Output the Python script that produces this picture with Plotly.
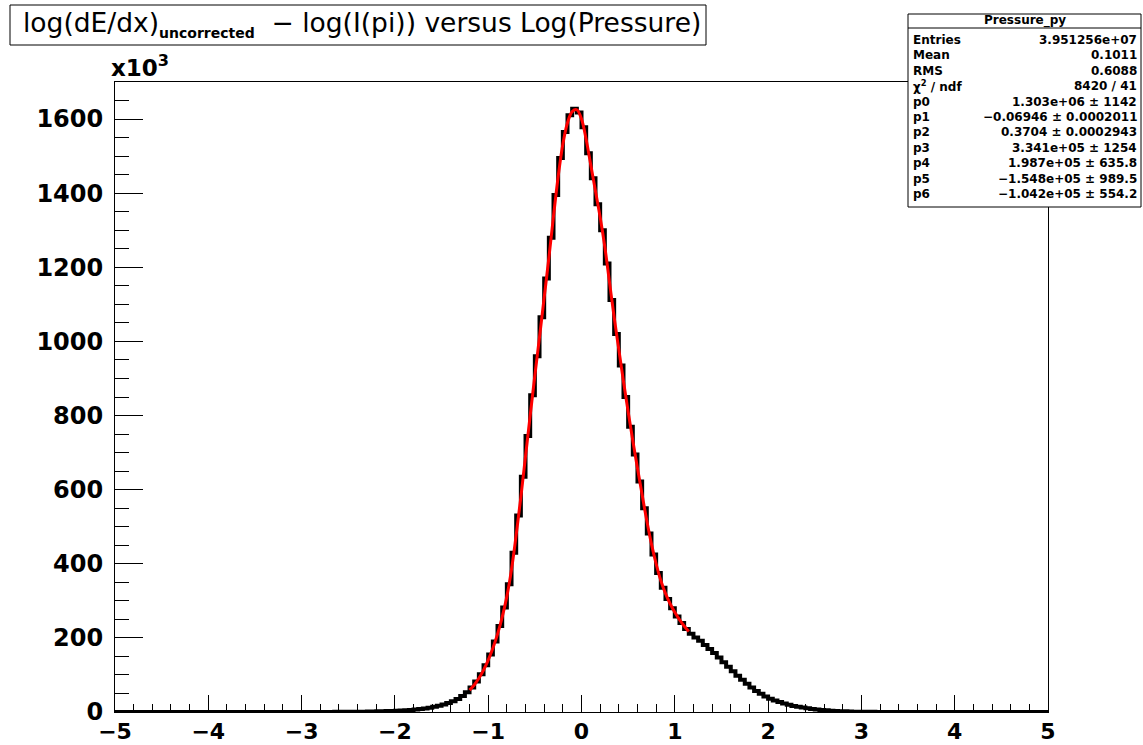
import numpy as np
import plotly.graph_objects as go

# ---------------- data (counts in units of 10^3) ----------------
x_lo, x_hi = -5.0, 5.0   # histogram range, 200 bins of width 0.05

left_tail = [0.0, 0.0, 0.0, 0.0, 0.0, 0.0, 0.0, 0.0, 0.0, 0.0,
             0.0, 0.0, 0.0, 0.0, 0.0, 0.0, 0.0, 0.0, 0.0, 0.0,
             0.0, 0.0, 0.0, 0.0, 0.0, 0.0, 0.0, 0.0, 0.0, 0.0,
             0.05, 0.05, 0.06, 0.07, 0.08, 0.09, 0.1, 0.11, 0.12, 0.14,
             0.16, 0.18, 0.2, 0.22, 0.25, 0.28, 0.31, 0.35, 0.4, 0.45]

core = [0.6, 0.7, 0.9, 1.0, 1.2, 1.4, 1.7, 2.0, 2.4, 2.8,
        3.3, 3.9, 4.6, 5.5, 6.5, 8, 9.5, 11.5, 14, 17,
        20, 24, 29, 35, 43, 53, 66, 82, 102, 126,
        155, 190, 232, 282, 345, 430, 530, 635, 745, 855,
        960, 1065, 1170, 1280, 1395, 1495, 1565, 1610, 1628, 1618,
        1578, 1508, 1440, 1370, 1300, 1210, 1112, 1020, 935, 850,
        770, 695, 622, 550, 482, 425, 375, 335, 305, 280,
        258, 240, 224, 211, 201, 192, 181, 170, 159, 147,
        134, 122, 110, 98, 87, 76, 66, 57, 49, 42,
        36, 31, 27, 23, 19.5, 16.5, 14, 12, 10, 8.3,
        6.8, 5.5, 4.4, 3.5, 2.8, 2.2, 1.7, 1.3, 1.0, 0.8,
        0.6, 0.5, 0.4, 0.3, 0.25, 0.2, 0.15, 0.12, 0.1, 0.08]

right_tail = [0.06, 0.05, 0.04, 0.03, 0.03, 0.02, 0.02, 0.01, 0.01, 0.01,
              0.0, 0.0, 0.0, 0.0, 0.0, 0.0, 0.0, 0.0, 0.0, 0.0,
              0.0, 0.0, 0.0, 0.0, 0.0, 0.0, 0.0, 0.0, 0.0, 0.0]

# fit curve
fit_x = [-1.2, -1.15, -1.1, -1.05, -1.0, -0.95, -0.9, -0.85, -0.8, -0.75,
         -0.7, -0.65, -0.6, -0.55, -0.5, -0.45, -0.4, -0.35, -0.3, -0.25,
         -0.2, -0.15, -0.1, -0.05, 0.0, 0.05, 0.1, 0.15, 0.2, 0.25,
         0.3, 0.35, 0.4, 0.45, 0.5, 0.55, 0.6, 0.65, 0.7, 0.75,
         0.8, 0.85, 0.9, 0.95, 1.0, 1.05, 1.1, 1.15]
fit_y = [59, 73, 91, 113, 140, 172, 210, 256, 312, 385,
         478, 580, 690, 800, 908, 1012, 1118, 1225, 1338, 1445,
         1532, 1590, 1620, 1625, 1600, 1545, 1475, 1405, 1335, 1255,
         1160, 1065, 978, 892, 810, 732, 658, 586, 516, 453,
         400, 355, 320, 292, 269, 249, 232, 217]

x_ticks = [-5, -4, -3, -2, -1, 0, 1, 2, 3, 4, 5]
y_ticks = [0, 200, 400, 600, 800, 1000, 1200, 1400, 1600]

stats_title = "Pressure_py"
stats_labels = ["Entries", "Mean", "RMS", "χ<sup>2</sup> / ndf", "p0", "p1", "p2",
                "p3", "p4", "p5", "p6"]
stats_values = ["3.951256e+07", "0.1011", "0.6088", "8420 / 41",
                "1.303e+06 ± 1142", "−0.06946 ± 0.0002011", "0.3704 ± 0.0002943",
                "3.341e+05 ± 1254", "1.987e+05 ± 635.8", "−1.548e+05 ± 989.5",
                "−1.042e+05 ± 554.2"]

title_main = "log(dE/dx)"
title_sub = "uncorrected"
title_rest = "  − log(I(pi)) versus Log(Pressure)"

# ---------------- figure ----------------
counts = left_tail + core + right_tail
edges = np.linspace(x_lo, x_hi, len(counts) + 1)

W, H = 1143, 745
L, R, T, B = 115, 1048, 82, 712


def px(x):
    return (x - L) / (R - L)


def py(y):
    return (B - y) / (B - T)


fig = go.Figure()
fig.add_trace(go.Scatter(
    x=edges, y=counts + [counts[-1]], mode="lines", line_shape="hv",
    line=dict(color="black", width=4), hoverinfo="skip", showlegend=False))
fig.add_trace(go.Scatter(
    x=fit_x, y=fit_y, mode="lines", line_shape="spline",
    line=dict(color="#ff0000", width=3), hoverinfo="skip", showlegend=False))

tick_font = dict(family="DejaVu Sans", size=24, color="black", weight="bold")
xtick_font = dict(family="DejaVu Sans", size=22, color="black", weight="bold")

fig.update_xaxes(
    range=[x_lo, x_hi], tickvals=x_ticks, automargin=False,
    ticktext=[str(v).replace("-", "−") for v in x_ticks],
    ticks="inside", ticklen=17, tickwidth=1, tickcolor="black",
    minor=dict(dtick=0.2, ticks="inside", ticklen=8, tickwidth=1, tickcolor="black"),
    showline=True, linecolor="black", linewidth=1, mirror=True,
    showgrid=False, zeroline=False, tickfont=xtick_font, ticklabelstandoff=0)
fig.update_yaxes(
    range=[0, 1700], tickvals=y_ticks, ticktext=[str(v) for v in y_ticks],
    automargin=False,
    ticks="inside", ticklen=28, tickwidth=1, tickcolor="black",
    minor=dict(dtick=50, ticks="inside", ticklen=14, tickwidth=1, tickcolor="black"),
    showline=True, linecolor="black", linewidth=1, mirror=True,
    showgrid=False, zeroline=False, tickfont=tick_font, ticklabelstandoff=6)

shapes = []
annotations = []

# title box
shapes.append(dict(type="rect", xref="paper", yref="paper",
                   x0=px(10), x1=px(706), y0=py(45), y1=py(5),
                   line=dict(color="black", width=1), fillcolor="white", layer="above"))
title_html = (title_main
              + "<sub><span style='font-size:14px;font-weight:bold'>" + title_sub
              + "</span></sub>" + title_rest)
annotations.append(dict(xref="paper", yref="paper", x=px(21), y=py(24),
                        xanchor="left", yanchor="middle", showarrow=False,
                        text=title_html,
                        font=dict(family="DejaVu Sans", size=26.5, color="black")))

# x10^3
annotations.append(dict(xref="paper", yref="paper", x=px(109), y=py(66),
                        xanchor="left", yanchor="middle", showarrow=False,
                        text="x10<sup>3</sup>",
                        font=dict(family="DejaVu Sans", size=23, color="black",
                                  weight="bold")))

# stats box
sx0, sx1, sy0, sy1 = 908, 1141, 14, 207
shapes.append(dict(type="rect", xref="paper", yref="paper",
                   x0=px(sx0), x1=px(sx1), y0=py(sy1), y1=py(sy0),
                   line=dict(color="black", width=1), fillcolor="white", layer="above"))
shapes.append(dict(type="line", xref="paper", yref="paper",
                   x0=px(sx0), x1=px(sx1), y0=py(28), y1=py(28),
                   line=dict(color="black", width=1), layer="above"))
stat_font = dict(family="DejaVu Sans", size=12, color="black", weight="bold")
annotations.append(dict(xref="paper", yref="paper", x=px((sx0 + sx1) / 2), y=py(21),
                        xanchor="center", yanchor="middle", showarrow=False,
                        text=stats_title, font=stat_font))
for i, (lab, val) in enumerate(zip(stats_labels, stats_values)):
    yy = 40 + i * 15.4
    annotations.append(dict(xref="paper", yref="paper", x=px(911), y=py(yy),
                            xanchor="left", yanchor="middle", showarrow=False,
                            text=lab, font=stat_font))
    annotations.append(dict(xref="paper", yref="paper", x=px(1139), y=py(yy),
                            xanchor="right", yanchor="middle", showarrow=False,
                            text=val, font=stat_font))

fig.update_layout(
    width=W, height=H, autosize=False,
    margin=dict(l=L, r=W - R, t=T, b=H - B, pad=0),
    paper_bgcolor="white", plot_bgcolor="white",
    shapes=shapes, annotations=annotations, showlegend=False)

fig.write_html("out.html", config={"displayModeBar": False},
               post_script="document.body.style.margin='0';document.body.style.padding='0';")
